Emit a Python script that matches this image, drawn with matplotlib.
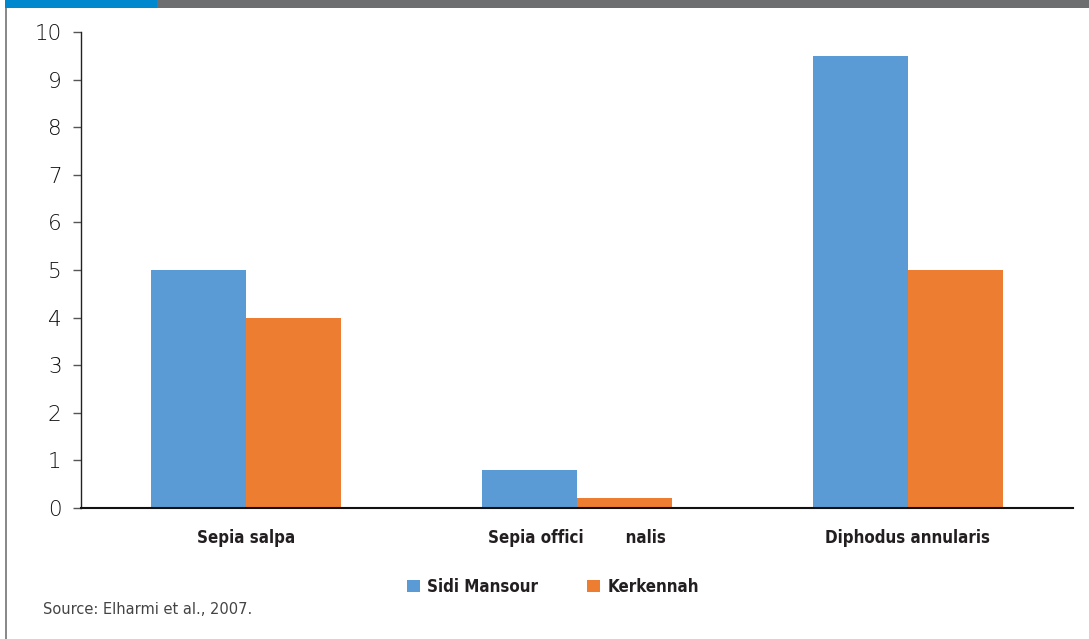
import matplotlib
matplotlib.use("Agg")
import matplotlib.pyplot as plt
from matplotlib.patches import Rectangle
from matplotlib import font_manager
import numpy as np

categories = ["Sepia salpa", "Sepia offici        nalis", "Diphodus annularis"]
series_names = ["Sidi Mansour", "Kerkennah"]
sidi_mansour = [5.0, 0.8, 9.5]
kerkennah = [4.0, 0.2, 5.0]
y_ticks = list(range(0, 11))
source_text = "Source: Elharmi et al., 2007."

BLUE = "#5B9BD5"
ORANGE = "#ED7D31"

installed = {f.name for f in font_manager.fontManager.ttflist}
if "Liberation Sans Narrow" in installed:
    label_font = {"family": "Liberation Sans Narrow", "weight": "bold", "size": 14.5}
else:
    label_font = {"family": "DejaVu Sans", "weight": "bold", "stretch": "condensed", "size": 12.2}

W, H = 1089, 639
fig = plt.figure(figsize=(W / 100, H / 100), dpi=100)
fig.patch.set_facecolor("white")

# page decorations: top band and left rule
fig.add_artist(Rectangle((5 / W, 1 - 8 / H), 152 / W, 8 / H, transform=fig.transFigure,
                         facecolor="#0088CE", edgecolor="none"))
fig.add_artist(Rectangle((157 / W, 1 - 8 / H), (W - 157) / W, 8 / H, transform=fig.transFigure,
                         facecolor="#6D6E70", edgecolor="none"))
fig.add_artist(Rectangle((5 / W, 0), 2 / W, 1 - 8 / H, transform=fig.transFigure,
                         facecolor="#8A8A8A", edgecolor="none"))

ax_left, ax_right, ax_top, ax_bottom = 81, 1073, 32, 508
ax = fig.add_axes([ax_left / W, 1 - ax_bottom / H, (ax_right - ax_left) / W, (ax_bottom - ax_top) / H])

x = np.arange(len(categories))
bw = 0.2875
ax.bar(x - bw / 2, sidi_mansour, width=bw, color=BLUE, label=series_names[0])
ax.bar(x + bw / 2, kerkennah, width=bw, color=ORANGE, label=series_names[1])

ax.set_xlim(-0.5, len(categories) - 0.5)
ax.set_ylim(0, 10)
ax.set_yticks(y_ticks)
ax.set_yticklabels([str(t) for t in y_ticks], fontsize=15.5, color="#111111",
                   family="DejaVu Sans", fontweight="light")
ax.tick_params(axis="y", direction="out", length=6, width=1, color="#555555", pad=8)
ax.set_xticks(x)
ax.set_xticklabels(categories, color="#231F20", **label_font)
ax.tick_params(axis="x", length=0, pad=15)

for s in ["top", "right"]:
    ax.spines[s].set_visible(False)
ax.spines["left"].set_color("#222222")
ax.spines["bottom"].set_color("#111111")
ax.spines["left"].set_linewidth(1.0)
ax.spines["bottom"].set_linewidth(1.5)

leg = fig.legend(loc="center", bbox_to_anchor=(553 / W, 1 - 587 / H), ncol=2, frameon=False,
                 handlelength=0.75, handleheight=0.75, handletextpad=0.45, columnspacing=2.9,
                 prop=label_font)
for t in leg.get_texts():
    t.set_color("#231F20")

fig.text(43 / W, 1 - 609 / H, source_text, fontsize=10.5, color="#444444",
         family="DejaVu Sans", va="center", ha="left")

fig.savefig("out.png", dpi=100, facecolor="white")
